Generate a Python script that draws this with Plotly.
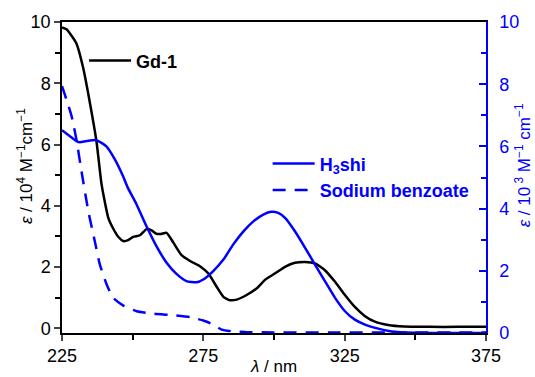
import plotly.graph_objects as go

# Gd-1 (left axis, 10^4 M^-1 cm^-1)
wl_gd = [225, 226.6, 228, 230.1, 232.5, 234.8, 237.2, 239.0, 241.4, 243.1, 244.9, 246.7,
         248.4, 250.2, 252.6, 254.9, 256.7, 258.4, 260, 262.0, 264.4, 267.3, 270.3, 273.8,
         276.8, 279.7, 282.1, 284.4, 286.8, 290.3, 293.8, 297, 300.3, 303.9, 307.4, 311.0,
         314.5, 318.0, 321.6, 325.1, 328.6, 332.2, 335.7, 340.4, 346, 355, 365, 375]
eps_gd = [9.82, 9.76, 9.6, 9.3, 8.5, 7.4, 6.1, 4.7, 3.6, 3.26, 2.99, 2.85,
          2.88, 2.99, 3.04, 3.24, 3.2, 3.09, 3.08, 3.12, 2.8, 2.39, 2.2, 2.03,
          1.79, 1.36, 1.03, 0.92, 0.94, 1.09, 1.3, 1.6, 1.79, 2.01, 2.14, 2.17,
          2.12, 1.90, 1.52, 1.09, 0.7, 0.4, 0.22, 0.11, 0.06, 0.05, 0.05, 0.05]

# H3shi (right axis, 10^3 M^-1 cm^-1)
wl_h = [225, 227.8, 230.1, 231.3, 233.7, 237.2, 240.7, 243.7, 246.6, 248.4, 251.3, 254.9,
        258.4, 262.0, 265.5, 269.0, 272.6, 275.0, 278.5, 282.1, 285.6, 289.2, 292.7, 296.2,
        299.1, 301.5, 303.9, 307.4, 311.0, 314.5, 318.0, 321.6, 325.1, 328.6, 332.2, 336.9,
        341.6, 350, 375]
eps_h = [6.52, 6.33, 6.17, 6.13, 6.17, 6.2, 6.0, 5.58, 5.04, 4.65, 4.15, 3.43,
         2.79, 2.26, 1.9, 1.67, 1.63, 1.72, 1.99, 2.36, 2.85, 3.27, 3.59, 3.81,
         3.9, 3.86, 3.7, 3.27, 2.74, 2.2, 1.67, 1.13, 0.7, 0.43, 0.27, 0.14,
         0.05, 0.01, 0.0]

# Sodium benzoate (right axis)
wl_sb = [225, 226.6, 228.4, 230.1, 231.9, 234.3, 236.6, 238.4, 240.8, 243.1, 246.7, 251.4,
         257.3, 264.4, 270.3, 275.0, 278.5, 281.5, 285.6, 290, 300, 320, 340, 375]
eps_sb = [7.94, 7.5, 6.97, 6.22, 5.2, 3.92, 2.95, 2.2, 1.56, 1.13, 0.88, 0.7,
          0.62, 0.57, 0.51, 0.40, 0.27, 0.11, 0.05, 0.03, 0.02, 0.02, 0.02, 0.02]

x_ticks = [225, 275, 325, 375]
x_minor = [250, 300, 350]
y_ticks = [0, 2, 4, 6, 8, 10]
y_minor = [1, 3, 5, 7, 9]

BLUE = "#0000ff"
FONT = "Liberation Sans, Arial, sans-serif"

fig = go.Figure()
fig.add_trace(go.Scatter(x=wl_gd, y=eps_gd, mode="lines", name="<b>Gd-1</b>",
                         line=dict(color="black", width=2.5, shape="spline", smoothing=0.5),
                         legend="legend", showlegend=True))
fig.add_trace(go.Scatter(x=wl_h, y=eps_h, mode="lines", name="<b>H<sub>3</sub>shi</b>",
                         yaxis="y2",
                         line=dict(color=BLUE, width=2.5, shape="spline", smoothing=0.5),
                         legend="legend2", showlegend=True))
fig.add_trace(go.Scatter(x=wl_sb, y=eps_sb, mode="lines", name="<b>Sodium benzoate</b>",
                         yaxis="y2",
                         line=dict(color=BLUE, width=2.5, dash="13px,9px", shape="spline", smoothing=0.5),
                         legend="legend2", showlegend=True))

fig.update_layout(
    width=535, height=377,
    showlegend=True,
    margin=dict(l=62, r=49, t=22, b=44),
    paper_bgcolor="white", plot_bgcolor="white",
    font=dict(family=FONT, size=18, color="black"),
    xaxis=dict(range=[225, 375], tickvals=x_ticks, ticks="outside", ticklen=6, tickwidth=1.5,
               showline=True, linecolor="black", linewidth=1.5, mirror=True,
               showgrid=False, zeroline=False,
               minor=dict(tickvals=x_minor, ticks="outside", ticklen=5, tickwidth=1.5,
                          tickcolor="black", showgrid=False)),
    yaxis=dict(range=[-0.15, 10], tickvals=y_ticks, ticks="outside", ticklen=6, tickwidth=1.5,
               showline=True, linecolor="black", linewidth=1.5,
               showgrid=False, zeroline=False,
               minor=dict(tickvals=y_minor, ticks="outside", ticklen=5, tickwidth=1.5,
                          tickcolor="black", showgrid=False)),
    yaxis2=dict(range=[0, 10], overlaying="y", side="right", tickvals=y_ticks,
                ticks="inside", ticklen=7, tickwidth=1.5, tickcolor=BLUE,
                showline=True, linecolor=BLUE, linewidth=1.5,
                tickfont=dict(color=BLUE, size=18),
                showgrid=False, zeroline=False, ticklabelstandoff=8,
                minor=dict(tickvals=y_minor, ticks="inside", ticklen=5, tickwidth=1.5,
                           tickcolor=BLUE, showgrid=False)),
    legend=dict(x=0.052, y=0.875, xanchor="left", yanchor="middle", visible=True,
                bgcolor="rgba(0,0,0,0)", font=dict(size=18, color="black"),
                itemwidth=42),
    legend2=dict(x=0.485, y=0.502, xanchor="left", yanchor="middle", visible=True,
                 bgcolor="rgba(0,0,0,0)", font=dict(size=18, color=BLUE),
                 itemwidth=42),
    annotations=[
        dict(text="<i>ε</i> / 10<sup>4</sup> M<sup>−1</sup>cm<sup>−1</sup>",
             x=-0.087, y=0.537, xref="paper", yref="paper", showarrow=False,
             textangle=-90, xanchor="center", yanchor="middle",
             font=dict(size=17, color="black")),
        dict(text="<i>ε</i> / 10<sup> 3</sup> M<sup>−1</sup> cm<sup>−1</sup>",
             x=1.088, y=0.54, xref="paper", yref="paper", showarrow=False,
             textangle=-90, xanchor="center", yanchor="middle",
             font=dict(size=17, color=BLUE)),
        dict(text="<i>λ</i> / nm",
             x=0.498, y=-0.108, xref="paper", yref="paper", showarrow=False,
             xanchor="center", yanchor="middle",
             font=dict(size=17, color="black")),
    ],
)

fig.write_html("out.html")
